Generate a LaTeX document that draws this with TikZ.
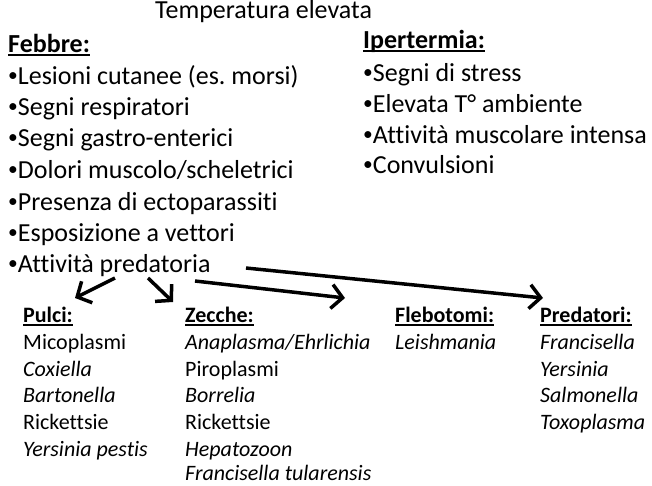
\documentclass[tikz,border=0pt]{standalone}
\usepackage{fontspec}
\usepackage{graphicx}
\setmainfont{Carlito}[Ligatures=NoCommon]
\usetikzlibrary{arrows.meta}
\usetikzlibrary{positioning}

\newcommand{\sotto}[1]{\setbox0=\hbox{#1}\hbox{\rlap{\rule[-3.5pt]{\wd0}{1.8pt}}\box0}}
\newcommand{\punto}{\raisebox{0.09em}{\scalebox{0.75}{•}}}

\begin{document}
\frenchspacing
\begin{tikzpicture}[x=1pt,y=-1pt,
  voce/.style={anchor=base west, inner sep=0pt, font=\fontsize{26}{30}\selectfont},
  titolo/.style={anchor=base west, inner sep=0pt, font=\fontsize{26}{30}\selectfont\bfseries},
  agente/.style={anchor=base west, inner sep=0pt, font=\fontsize{22}{26}\selectfont},
  vettore/.style={anchor=base west, inner sep=0pt, font=\fontsize{22}{26}\selectfont\bfseries},
  freccia/.style={-{Straight Barb[length=11pt,width=24pt,line width=3.5pt]}, line width=3.5pt}]
  \useasboundingbox (0,0) rectangle (652,485);

  % Title
  \node[voce] (temp) at (155,18) {Temperatura elevata};

  % Febbre
  \node[titolo] (febbre) at (8,52) {\sotto{Febbre:}};
  \node[voce] (lesioni) at (8,84) {\punto Lesioni cutanee (es. morsi)};
  \node[voce] (respir) at (8,115) {\punto Segni respiratori};
  \node[voce] (gastro) at (8,146) {\punto Segni gastro-enterici};
  \node[voce] (dolori) at (8,178) {\punto Dolori muscolo/scheletrici};
  \node[voce] (ecto) at (8,210) {\punto Presenza di ectoparassiti};
  \node[voce] (espos) at (8,241) {\punto Esposizione a vettori};
  \node[voce] (predat) at (8,272) {\punto Attività predatoria};

  % Ipertermia
  \node[titolo] (iperterm) at (363,48) {\sotto{Ipertermia:}};
  \node[voce] (stress) at (363,81) {\punto Segni di stress};
  \node[voce] (tamb) at (363,112) {\punto Elevata T° ambiente};
  \node[voce] (muscol) at (363,143) {\punto Attività muscolare intensa};
  \node[voce] (convul) at (363,173) {\punto Convulsioni};

  % Pulci
  \node[vettore] (pulci) at (23,322) {\sotto{Pulci:}};
  \node[agente] at (23,349) {Micoplasmi};
  \node[agente] at (23,376) {\itshape Coxiella};
  \node[agente] at (23,402.5) {\itshape Bartonella};
  \node[agente] at (23,429) {Rickettsie};
  \node[agente] at (23,456) {\itshape Yersinia pestis};

  % Zecche
  \node[vettore] (zecche) at (185,322) {\sotto{Zecche:}};
  \node[agente] at (185,349) {\itshape Anaplasma/Ehrlichia};
  \node[agente] at (185,376) {Piroplasmi};
  \node[agente] at (185,402.5) {\itshape Borrelia};
  \node[agente] at (185,429) {Rickettsie};
  \node[agente] at (185,456) {\itshape Hepatozoon};
  \node[agente] at (185,480.5) {\itshape Francisella tularensis};

  % Flebotomi
  \node[vettore] (flebo) at (395,322) {\sotto{Flebotomi:}};
  \node[agente] at (395,349) {\itshape Leishmania};

  % Predatori
  \node[vettore] (predatori) at (540,322) {\sotto{Predatori:}};
  \node[agente] at (540,349) {\itshape Francisella};
  \node[agente] at (540,376) {\itshape Yersinia};
  \node[agente] at (540,402.5) {\itshape Salmonella};
  \node[agente] at (540,429) {\itshape Toxoplasma};

  % Arrows
  \coordinate (a1) at (115,278);
  \coordinate (a2) at (148,278);
  \coordinate (a3) at (195,281);
  \coordinate (a4) at (246,268);
  \coordinate (t1) at (75,298);
  \coordinate (t2) at (173,302);
  \coordinate (t3) at (345,298);
  \coordinate (t4) at (543,298);
  \draw[freccia] (a1) -- (t1);
  \draw[freccia] (a2) -- (t2);
  \draw[freccia] (a3) -- (t3);
  \draw[freccia] (a4) -- (t4);
\end{tikzpicture}
\end{document}
